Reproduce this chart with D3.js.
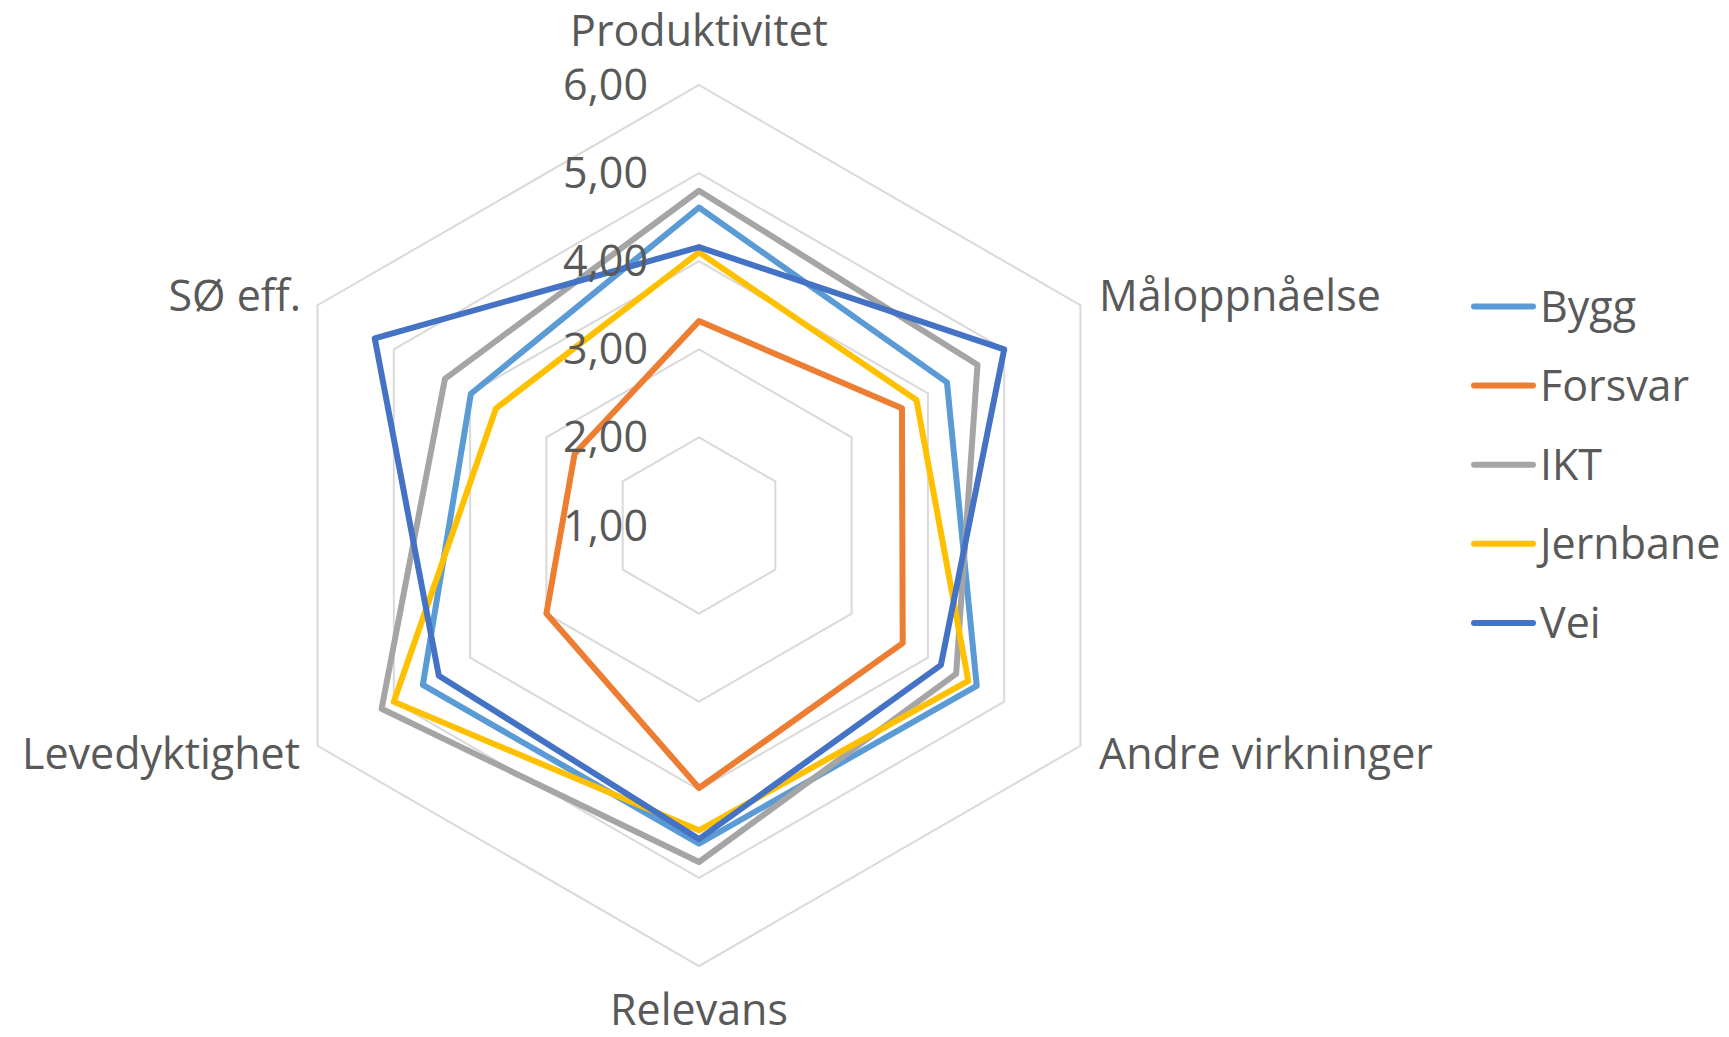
<!DOCTYPE html>
<html>
<head>
<meta charset="utf-8">
<script src="https://cdn.jsdelivr.net/npm/d3@7"></script>
<style>
  body { margin: 0; background: #fff; }
  text { font-family: "Open Sans", sans-serif; fill: #595959; }
</style>
</head>
<body>
<svg id="radar"></svg>
<script>
// axes go clockwise from the top
const categories = ["Produktivitet", "Måloppnåelse", "Andre virkninger", "Relevans", "Levedyktighet", "SØ eff."];
const seriesNames = ["Bygg", "Forsvar", "IKT", "Jernbane", "Vei"];
const bygg = [4.61, 4.25, 4.64, 4.61, 4.62, 3.99];
const forsvar = [3.32, 3.66, 3.67, 3.98, 3.00, 2.63];
const ikt = [4.80, 4.65, 4.37, 4.82, 5.16, 4.33];
const jernbane = [4.10, 3.85, 4.53, 4.46, 5.00, 3.66];
const vei = [4.16, 5.00, 4.17, 4.56, 4.41, 5.25];
const tickValues = [1, 2, 3, 4, 5, 6];
const tickLabels = ["1,00", "2,00", "3,00", "4,00", "5,00", "6,00"];

const colors = ["#5B9BD5", "#ED7D31", "#A5A5A5", "#FFC000", "#4472C4"];
const seriesData = [bygg, forsvar, ikt, jernbane, vei];

const width = 1729, height = 1037;
const cx = 699, cy = 525.5;
const fontSize = 43;

const svg = d3.select("#radar").attr("width", width).attr("height", height);
const g = svg.append("g").attr("transform", `translate(${cx},${cy})`);

const rScale = d3.scaleLinear().domain([1, 6]).range([0, 440.5]);
const angle = (i) => (i * 2 * Math.PI) / categories.length;

const radial = d3
  .lineRadial()
  .angle((d, i) => angle(i))
  .radius((d) => rScale(d))
  .curve(d3.curveLinearClosed);

// point on an axis, in svg coords relative to centre
function point(i, v) {
  const a = angle(i);
  return [rScale(v) * Math.sin(a), -rScale(v) * Math.cos(a)];
}

// gridlines (hexagons), none at the centre value
g.selectAll(".grid")
  .data(tickValues.filter((t) => t > 1))
  .join("path")
  .attr("class", "grid")
  .attr("d", (t) => radial(categories.map(() => t)))
  .attr("fill", "none")
  .attr("stroke", "#D9D9D9")
  .attr("stroke-width", 2);

// series
g.selectAll(".series")
  .data(seriesData)
  .join("path")
  .attr("class", "series")
  .attr("d", (d) => radial(d))
  .attr("fill", "none")
  .attr("stroke", (d, i) => colors[i])
  .attr("stroke-width", 6)
  .attr("stroke-linejoin", "round");

// value axis labels, drawn over the lines
g.selectAll(".tick")
  .data(tickValues)
  .join("text")
  .attr("class", "tick")
  .attr("x", -51)
  .attr("y", (d) => -rScale(d) + 15)
  .attr("text-anchor", "end")
  .attr("font-size", fontSize)
  .text((d, i) => tickLabels[i]);

// category labels
const labelOffsets = [
  { dx: 0, dy: -39, anchor: "middle" },
  { dx: 18.5, dy: 6, anchor: "start" },
  { dx: 18.5, dy: 23, anchor: "start" },
  { dx: 0, dy: 59, anchor: "middle" },
  { dx: -17.5, dy: 23, anchor: "end" },
  { dx: -16.5, dy: 6, anchor: "end" },
];

g.selectAll(".cat")
  .data(categories)
  .join("text")
  .attr("class", "cat")
  .attr("x", (d, i) => point(i, 6)[0] + labelOffsets[i].dx)
  .attr("y", (d, i) => point(i, 6)[1] + labelOffsets[i].dy)
  .attr("text-anchor", (d, i) => labelOffsets[i].anchor)
  .attr("font-size", fontSize)
  .text((d) => d);

// legend
const legend = svg
  .append("g")
  .attr("transform", "translate(1474,306.5)")
  .selectAll("g")
  .data(seriesNames)
  .join("g")
  .attr("transform", (d, i) => `translate(0,${i * 79.1})`);

legend
  .append("line")
  .attr("x1", 0)
  .attr("x2", 59)
  .attr("stroke", (d, i) => colors[i])
  .attr("stroke-width", 6)
  .attr("stroke-linecap", "round");

legend
  .append("text")
  .attr("x", 66)
  .attr("y", 15)
  .attr("font-size", fontSize)
  .text((d) => d);
</script>
</body>
</html>
